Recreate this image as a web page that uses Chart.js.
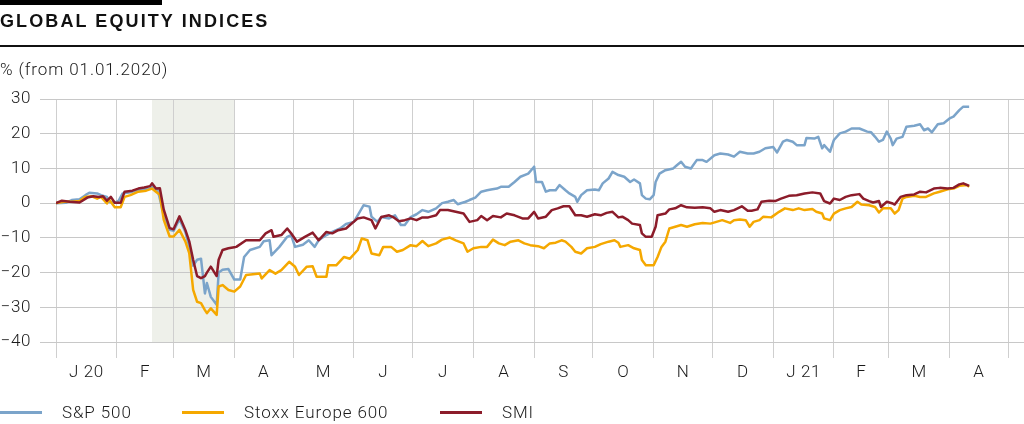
<!DOCTYPE html>
<html>
<head>
<meta charset="utf-8">
<script src="https://cdn.jsdelivr.net/npm/chart.js@4"></script>
<style>
  html, body { margin: 0; padding: 0; background: #fff; }
  body { width: 1024px; height: 424px; position: relative; overflow: hidden; font-family: Roboto, "Liberation Sans", sans-serif; color: #1a1a1a; }
  #c { position: absolute; left: 0; top: 0; }
  .bar { position: absolute; left: 0; top: 0; width: 162px; height: 5px; background: #000; }
  .title { position: absolute; left: 0; top: 11px; font-family: "Liberation Sans", Arial, sans-serif; font-size: 18px; font-weight: 700; letter-spacing: 2.1px; color: #111; }
  .rule { position: absolute; left: 0; top: 45px; width: 1024px; height: 2px; background: #111; }
  .sub { position: absolute; left: 0; top: 59px; font-size: 17px; font-weight: 300; letter-spacing: 0.9px; }
  .legend { position: absolute; top: 402px; left: 0; font-size: 17px; font-weight: 300; letter-spacing: 0.9px; }
  .legend span.l { position: absolute; top: 9px; height: 3px; width: 42px; }
  .legend span.t { position: absolute; top: 0; white-space: nowrap; }
</style>
</head>
<body>
<canvas id="c" width="1024" height="424"></canvas>
<div class="bar"></div>
<div class="title">GLOBAL EQUITY INDICES</div>
<div class="rule"></div>
<div class="sub">% (from 01.01.2020)</div>
<div class="legend">
  <span class="l" style="left:0;background:#7ba4ca"></span><span class="t" style="left:62px">S&amp;P 500</span>
  <span class="l" style="left:182px;background:#f5a800"></span><span class="t" style="left:244px">Stoxx Europe 600</span>
  <span class="l" style="left:440px;background:#8c1c2a"></span><span class="t" style="left:502px">SMI</span>
</div>
<script>
// days since 01.01.2020, values in % from 01.01.2020
const spDays = [0,5,8,12,15,17,21,23,26,27,30,32,34,38,41,44,48,49,52,55,58,60,63,66,68,70,72,74,76,77,79,82,83,85,88,91,94,96,99,104,106,109,110,114,118,120,122,126,129,132,134,138,141,145,148,152,155,157,160,161,164,166,170,173,176,178,181,184,187,190,194,197,200,203,205,209,211,214,217,220,222,225,227,231,234,237,241,244,245,248,250,252,255,257,260,262,265,266,268,271,275,277,279,282,284,287,290,293,295,298,299,301,303,305,306,308,311,315,317,319,321,324,327,330,332,336,339,343,346,349,353,356,359,362,366,368,371,373,376,378,382,383,387,389,391,392,395,397,400,403,406,410,414,416,418,420,422,424,426,427,429,432,434,438,441,443,445,447,450,453,456,458,461,463,466];
const spVals = [0,0.1,0.9,1.1,2.3,3.0,2.8,2.3,1.8,0.4,0.1,0.7,2.8,3.1,3.7,3.9,4.2,4.9,3.6,-3.4,-7.7,-8.0,-4.6,-8.2,-12.5,-18,-16.3,-16,-26,-23,-27,-29.3,-20,-19.2,-19,-22,-22,-15.5,-13.5,-12.6,-11,-10.7,-15,-12.6,-9.7,-9.2,-12.6,-12,-10.7,-12.6,-10.7,-9.2,-8.3,-7.3,-6,-5.4,-2.5,-0.6,-1,-3.9,-5.4,-4,-4.4,-3.5,-6.3,-6.3,-4,-3.2,-2,-2.5,-1.5,0,0.4,0.9,-0.3,0.4,0.9,1.6,3.3,3.7,3.9,4.2,4.7,4.7,6.1,7.6,8.5,10.5,6.1,6.1,3.3,3.7,3.7,5.2,3.7,2.8,1.8,0.4,2.3,3.7,3.9,3.7,5.7,7.1,9,8.1,7.6,6.1,6.8,5.7,2.3,1.3,1.1,2.3,6.1,8.5,9.5,10,11,11.9,10.5,10,12.4,12.4,11.9,13.8,14.3,14,13.4,14.8,14.3,14.3,14.8,15.8,16.2,14.6,17.7,18.2,17.7,16.7,16.7,18.8,18.6,19.1,15.8,16.7,14.8,18.2,20.1,20.6,21.5,21.5,20.6,20.4,19.1,17.7,18.2,20.6,18.6,16.7,18.6,19.1,22,22.3,22.7,21,21.5,20.4,22.7,23,24.4,24.9,26.8,27.8,27.8];

const stoxxDays = [0,5,8,12,15,18,21,23,26,27,30,33,35,38,42,46,49,51,53,55,58,60,63,66,68,70,72,74,76,77,79,82,83,85,88,91,94,97,104,105,109,112,115,119,122,124,128,131,133,138,139,143,147,150,154,156,159,161,165,167,171,174,177,181,184,187,190,194,197,201,204,208,210,213,217,220,223,226,229,232,236,239,242,246,249,252,255,258,260,263,265,268,271,275,278,282,285,287,288,292,295,298,299,301,305,307,309,311,313,316,319,322,326,330,334,337,340,344,346,349,352,354,356,359,361,365,369,372,376,379,382,386,388,391,392,395,397,400,403,406,409,411,415,418,420,422,426,428,430,432,434,438,441,444,448,451,455,458,461,465,466];
const stoxxVals = [0,0.5,0.4,0.6,1.8,2.0,1.3,1.8,-0.1,1.1,-1.2,-1.2,1.8,2.3,3.3,3.6,4.2,3.3,2.4,-4.8,-9.6,-9.6,-7.7,-11,-14.4,-25,-28.4,-28.8,-30.8,-31.7,-30.3,-32.2,-24,-23.6,-25,-25.5,-24,-20.7,-20.3,-21.7,-19.3,-20.3,-19.3,-16.9,-18.3,-20.7,-18.3,-18.2,-21.2,-21.2,-17.9,-17.9,-15.5,-16,-13.5,-10.2,-10.7,-14.5,-15,-12.6,-12.6,-14,-13.5,-12.1,-12.4,-10.9,-12.4,-11.6,-10.5,-9.9,-10.7,-11.6,-14,-13,-12.6,-12.6,-10.5,-11.6,-12.1,-11.1,-10.7,-11.6,-12.1,-12.4,-13,-11.6,-11.4,-10.7,-11.1,-12.6,-14,-14.5,-13,-12.6,-11.8,-11.1,-10.7,-11.4,-12.6,-12.1,-13,-13.5,-16.4,-17.9,-17.9,-15.5,-12.6,-11.1,-7.3,-6.8,-6.3,-6.8,-6.1,-5.7,-5.9,-5.4,-4.9,-5.7,-4.9,-4.7,-4.9,-6.8,-5.4,-4.9,-3.9,-4.1,-2.5,-1.5,-2,-1.5,-2,-1.7,-2.5,-3,-4.4,-4.9,-3,-2,-1.5,-1.1,0.4,-0.4,-0.6,-1.1,-2.7,-1.5,-1.5,-3,-2,1.3,1.8,2.1,1.8,1.8,2.8,3.3,4,4.2,5,5.2,4.7];

const smiDays = [0,3,7,12,16,19,22,24,26,28,30,33,35,39,42,45,48,49,51,53,55,58,60,63,66,68,70,72,74,76,77,79,82,83,85,88,91,92,97,104,107,110,111,115,118,120,123,127,131,134,138,141,144,148,150,154,157,161,163,166,170,172,175,178,181,184,187,190,194,196,200,204,208,211,215,217,220,223,227,230,234,238,241,244,246,250,253,256,259,262,265,268,271,275,278,281,284,287,289,292,294,298,299,301,304,306,307,311,313,316,319,322,326,330,334,336,339,343,346,350,353,355,358,360,364,367,370,374,378,382,386,390,392,395,397,400,403,406,410,412,415,417,420,421,424,427,428,431,434,438,441,444,448,451,455,458,461,463,466];
const smiVals = [0,0.7,0.4,0.2,1.6,2.0,1.8,2.0,0.7,1.8,0.1,0.1,3.3,3.6,4.2,4.5,4.9,5.7,4.2,4.3,-1.9,-7.2,-7.5,-3.8,-7.7,-11,-16.3,-21,-21.6,-21,-20,-18.3,-21,-16.3,-13.5,-13,-12.7,-12.6,-10.7,-10.7,-8.7,-7.8,-9.7,-9.2,-7.3,-8.7,-11.1,-9.7,-8.5,-10.7,-8.3,-8.7,-7.8,-7.3,-6.3,-4.4,-4.1,-4.9,-7.3,-4,-3.5,-4,-5.2,-4.9,-4.4,-4.9,-4.1,-4.1,-3.5,-2,-2,-2.5,-3,-5.4,-4.9,-3.7,-4.9,-3.7,-4.1,-3,-3.5,-4.4,-4.4,-2.5,-4.4,-3.9,-2,-1.5,-0.9,-0.9,-3.5,-3.5,-3.9,-3.2,-3.5,-2.8,-2.5,-4.1,-3.9,-4.9,-5.9,-6.3,-8.7,-9.7,-9.7,-6.8,-3.5,-3,-1.8,-1.5,-0.6,-1.2,-1.3,-1.2,-1.5,-2.5,-2,-2.5,-2,-0.9,-2.2,-2.2,-1.8,0.4,0.7,0.6,1.3,2.1,2.3,2.8,3.1,2.8,0.6,-0.1,1.3,0.9,1.8,2.3,2.6,1.3,0.6,0.2,0.6,-1.1,0.4,-0.1,-0.4,1.8,2.3,2.5,3.3,3.1,4.2,4.4,4.2,4.4,5.4,5.7,5];

const monthLabels = ['J 20','F','M','A','M','J','J','A','S','O','N','D','J 21','F','M','A'];
const yTicks = [30, 20, 10, 0, -10, -20, -30, -40];
const shadeFrom = 49; // 19.02.2020
const shadeTo = 91;   // 01.04.2020

const DAY = 86400000;
const t0 = Date.UTC(2020, 0, 1);
const monthStarts = [];
for (let m = 0; m <= monthLabels.length; m++) {
  monthStarts.push(Math.round((Date.UTC(2020, m, 1) - t0) / DAY));
}
const midTicks = {};
monthLabels.forEach((lab, i) => { midTicks[(monthStarts[i] + monthStarts[i + 1]) / 2] = lab; });

function pts(days, vals) { return days.map((d, i) => ({ x: d, y: vals[i] })); }

const shade = {
  id: 'shade',
  beforeDraw(chart) {
    const { ctx, scales: { x, y } } = chart;
    const x1 = x.getPixelForValue(shadeFrom), x2 = x.getPixelForValue(shadeTo);
    const y1 = y.getPixelForValue(30), y2 = y.getPixelForValue(-40);
    ctx.save();
    ctx.fillStyle = '#eef0ea';
    ctx.fillRect(x1, y1, x2 - x1, y2 - y1);
    ctx.restore();
    ctx.letterSpacing = '0.6px'; // tick labels a bit wider, like the original
  }
};

const font = { family: 'Roboto, "Liberation Sans", sans-serif', size: 17, weight: 300 };

new Chart(document.getElementById('c'), {
  type: 'line',
  data: {
    datasets: [
      { label: 'SMI', data: pts(smiDays, smiVals), borderColor: '#8c1c2a', order: 0 },
      { label: 'Stoxx Europe 600', data: pts(stoxxDays, stoxxVals), borderColor: '#f5a800', order: 1 },
      { label: 'S&P 500', data: pts(spDays, spVals), borderColor: '#7ba4ca', order: 2 }
    ]
  },
  options: {
    responsive: false,
    animation: false,
    layout: { padding: { top: 99, left: 0, right: 0, bottom: 30 } },
    elements: {
      point: { radius: 0 },
      line: { borderWidth: 2.5, tension: 0, borderJoinStyle: 'round' }
    },
    plugins: { legend: { display: false }, tooltip: { enabled: false } },
    scales: {
      x: {
        type: 'linear',
        min: 0,
        max: 494,
        border: { display: false },
        grid: {
          color: ctx => (ctx.tick && midTicks[ctx.tick.value] === undefined) ? '#cfcfcf' : 'rgba(0,0,0,0)',
          lineWidth: 1,
          tickLength: 16
        },
        afterBuildTicks: s => {
          const t = [];
          monthStarts.forEach(v => t.push({ value: v }));
          Object.keys(midTicks).forEach(v => t.push({ value: +v }));
          t.sort((a, b) => a.value - b.value);
          s.ticks = t;
        },
        afterFit: s => { s.height = 52; },
        ticks: {
          autoSkip: false,
          maxRotation: 0,
          padding: 5,
          color: '#1a1a1a',
          font,
          callback: v => midTicks[v] !== undefined ? midTicks[v] : ''
        }
      },
      y: {
        min: -40,
        max: 30,
        border: { display: false },
        grid: { color: '#c8c8c8', lineWidth: 1, tickLength: 16 },
        afterBuildTicks: s => { s.ticks = yTicks.map(v => ({ value: v })); },
        afterFit: s => { s.width = 56; },
        ticks: {
          padding: 9,
          color: '#1a1a1a',
          font,
          callback: v => v < 0 ? '\u2212' + Math.abs(v) : String(v)
        }
      }
    }
  },
  plugins: [shade]
});
</script>
</body>
</html>
